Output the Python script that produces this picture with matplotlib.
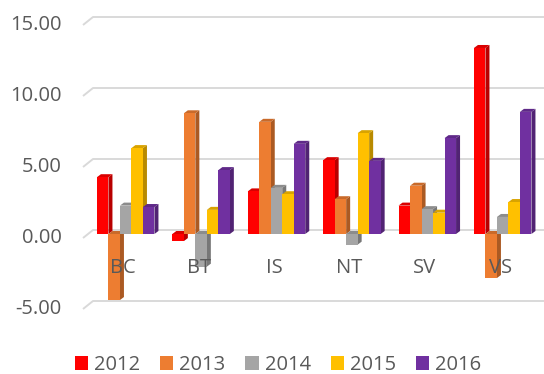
import numpy as np
import matplotlib
matplotlib.use("Agg")
import matplotlib.pyplot as plt
from matplotlib.patches import Polygon, Rectangle, Patch
import matplotlib.colors as mcolors

plt.rcParams["font.family"] = ["Open Sans", "DejaVu Sans"]

#
# Data
#
categories = ["BC", "BT", "IS", "NT", "SV", "VS"]
years = ["2012", "2013", "2014", "2015", "2016"]
v2012 = [4.0, -0.5, 3.0, 5.2, 2.0, 13.1]
v2013 = [-4.65, 8.5, 7.9, 2.45, 3.4, -3.1]
v2014 = [2.0, -2.3, 3.25, -0.75, 1.75, 1.2]
v2015 = [6.05, 1.7, 2.8, 7.1, 1.5, 2.25]
v2016 = [1.9, 4.5, 6.35, 5.15, 6.75, 8.6]
series = [v2012, v2013, v2014, v2015, v2016]
colors = ["#FF0000", "#ED7D31", "#A5A5A5", "#FFC000", "#7030A0"]
yticks = [-5, 0, 5, 10, 15]

TEXT = "#595959"
GRID = "#D9D9D9"

W, H = 544, 374
fig = plt.figure(figsize=(W / 100, H / 100), dpi=100)
ax = fig.add_axes([83 / W, (H - 325) / H, (544 - 83) / W, (325 - 8) / H])
ax.set_xlim((83 - 125.7) / 75.4, (544 - 125.7) / 75.4)
ax.set_ylim((234 - 325) / 14.2, (234 - 8) / 14.2)
for s in ax.spines.values():
    s.set_visible(False)
ax.set_xticks([])
ax.set_yticks([])

# pixel -> data unit conversion
x0, x1 = ax.get_xlim()
y0, y1 = ax.get_ylim()
sx = (x1 - x0) / (544 - 83)
sy = (y1 - y0) / (325 - 8)


def darker(c, f):
    r, g, b = mcolors.to_rgb(c)
    return (r * f, g * f, b * f)


# back-wall gridlines with the slanted floor edge on the left
wall_dx, wall_dy = 10 * sx, 4 * sy
for v in yticks:
    ax.plot([x0, x0 + wall_dx, x1], [v - wall_dy, v + wall_dy, v + wall_dy],
            color=GRID, lw=1.4, zorder=1, solid_capstyle="butt", clip_on=False)
    ax.text(x0 - 21 * sx, v - wall_dy, f"{v:.2f}", ha="right", va="center",
            fontsize=14.5, color=TEXT, clip_on=False)

# 3D-looking columns
bw = 11.5 / 75.4
dx, dy = 4 * sx, 3 * sy
z = 2
for i in range(len(categories)):
    left0 = i - bw * len(series) / 2
    for j, (vals, c) in enumerate(zip(series, colors)):
        v = vals[i]
        xl = left0 + j * bw
        xr = xl + bw
        lo, hi = min(0, v), max(0, v)
        side = Polygon([(xr, lo), (xr + dx, lo + dy), (xr + dx, hi + dy), (xr, hi)],
                       closed=True, facecolor=darker(c, 0.72), edgecolor="none", zorder=z)
        top = Polygon([(xl, hi), (xl + dx, hi + dy), (xr + dx, hi + dy), (xr, hi)],
                      closed=True, facecolor=darker(c, 0.85), edgecolor="none", zorder=z)
        front = Rectangle((xl, lo), bw, hi - lo, facecolor=c, edgecolor="none", zorder=z + 0.5)
        ax.add_patch(side)
        ax.add_patch(top)
        ax.add_patch(front)
        z += 1

# category labels sit below the zero line, over the bars
for i, cat in enumerate(categories):
    ax.text(i - 2.5 * sx, (234 - 268) / 14.2, cat, ha="center", va="center",
            fontsize=14.5, color=TEXT, zorder=100)

handles = [Patch(facecolor=c, edgecolor="none", label=y) for c, y in zip(colors, years)]
fig.legend(handles=handles, loc="center", bbox_to_anchor=(0.511, 9 / H), ncol=5,
           frameon=False, fontsize=14.5, handlelength=0.65, handleheight=0.65,
           handletextpad=0.3, columnspacing=1.0, labelcolor=TEXT, borderpad=0)

fig.savefig("out.png", dpi=100)
